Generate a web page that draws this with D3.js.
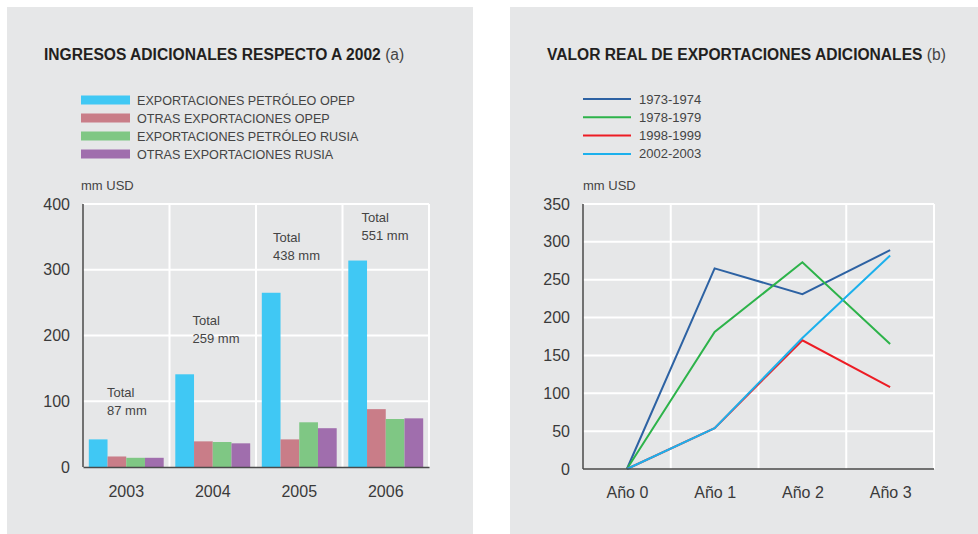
<!DOCTYPE html>
<html>
<head>
<meta charset="utf-8">
<script src="https://cdn.jsdelivr.net/npm/d3@7"></script>
<style>
  body { margin: 0; background: #fff; }
  svg { display: block; font-family: "Liberation Sans", Arial, sans-serif; }
  .grid line { stroke: #fff; stroke-width: 2; }
  .axis path { stroke: #4a4a4a; stroke-width: 1.5; }
  .axis text { font-size: 16px; fill: #3a3a3a; }
  .legend text, .note text { font-size: 13px; fill: #444; }
  .legend.caps text { font-size: 12.6px; }
</style>
</head>
<body>
<svg id="chart" width="978" height="534"></svg>
<script>
/* Data: panel (a) */
var years = ["2003", "2004", "2005", "2006"];
var barSeries = ["EXPORTACIONES PETRÓLEO OPEP", "OTRAS EXPORTACIONES OPEP",
                 "EXPORTACIONES PETRÓLEO RUSIA", "OTRAS EXPORTACIONES RUSIA"];
var opepOil   = [42, 141, 265, 314];
var opepOther = [16, 39, 42, 88];
var rusiaOil  = [14, 38, 68, 73];
var rusiaOther= [14, 36, 59, 74];
var totals    = ["87 mm", "259 mm", "438 mm", "551 mm"];
var totalLabelAt = [79, 189, 315, 345];   // value where the "xx mm" line sits
var barTicks = [0, 100, 200, 300, 400];

/* Data: panel (b) */
var periods = ["Año 0", "Año 1", "Año 2", "Año 3"];
var lineSeries = ["1973-1974", "1978-1979", "1998-1999", "2002-2003"];
var v1973 = [0, 265, 231, 289];
var v1978 = [0, 181, 273, 165];
var v1998 = [0, 54, 170, 108];
var v2002 = [0, 54, 173, 282];
var lineTicks = [0, 50, 100, 150, 200, 250, 300, 350];

var barColors  = ["#40c8f4", "#c97d88", "#7fc784", "#a06ead"];
var lineColors = ["#2d62a3", "#2db34a", "#ed1c24", "#1cb0ec"];

var svg = d3.select("#chart");

// panels
svg.append("rect").attr("x", 7).attr("y", 7).attr("width", 466).attr("height", 527).attr("fill", "#e6e7e8");
svg.append("rect").attr("x", 510).attr("y", 7).attr("width", 468).attr("height", 527).attr("fill", "#e6e7e8");

function title(x, main, tag) {
  var t = svg.append("text").attr("x", x).attr("y", 60)
    .style("font-size", "15.6px").style("fill", "#231f20");
  t.append("tspan").style("font-weight", "bold").text(main);
  t.append("tspan").style("fill", "#444").text(" " + tag);
}
title(44, "INGRESOS ADICIONALES RESPECTO A 2002", "(a)");
title(547, "VALOR REAL DE EXPORTACIONES ADICIONALES", "(b)");

/* ---------- Panel (a): grouped bars ---------- */
var barTable = years.map(function (y, i) {
  return { year: y, values: [opepOil[i], opepOther[i], rusiaOil[i], rusiaOther[i]] };
});

var x0 = d3.scaleBand().domain(years).range([83, 429]).padding(0);
var x1 = d3.scaleBand().domain(d3.range(barSeries.length)).range([0, x0.bandwidth()]).paddingOuter(0.31).paddingInner(0);
var yA = d3.scaleLinear().domain([0, 400]).range([467, 204]);

// legend (a)
var legA = svg.append("g").attr("class", "legend caps");
barSeries.forEach(function (s, i) {
  var cy = 100 + i * 18;
  legA.append("rect").attr("x", 81).attr("y", cy - 4.5).attr("width", 49).attr("height", 9).attr("fill", barColors[i]);
  legA.append("text").attr("x", 137).attr("y", cy + 4.5).text(s);
});
svg.append("text").attr("x", 81).attr("y", 190).style("font-size", "13px").style("fill", "#444").text("mm USD");

// grid (a)
var gA = svg.append("g").attr("class", "grid");
gA.selectAll(".h").data(barTicks.slice(1)).enter().append("line")
  .attr("x1", 83).attr("x2", 429).attr("y1", function (d) { return yA(d); }).attr("y2", function (d) { return yA(d); });
gA.selectAll(".v").data(years).enter().append("line")
  .attr("x1", function (d) { return x0(d) + x0.bandwidth(); })
  .attr("x2", function (d) { return x0(d) + x0.bandwidth(); })
  .attr("y1", yA(400)).attr("y2", yA(0));

// bars
svg.append("g").selectAll("g").data(barTable).enter().append("g")
  .attr("transform", function (d) { return "translate(" + x0(d.year) + ",0)"; })
  .selectAll("rect").data(function (d) { return d.values; }).enter().append("rect")
    .attr("x", function (d, i) { return x1(i); })
    .attr("width", x1.bandwidth())
    .attr("y", function (d) { return yA(d); })
    .attr("height", function (d) { return yA(0) - yA(d); })
    .attr("fill", function (d, i) { return barColors[i]; });

// totals
var notes = svg.append("g").attr("class", "note");
years.forEach(function (y, i) {
  var nx = x0(y) + [24, 23, 17, 19][i];
  notes.append("text").attr("x", nx).attr("y", yA(totalLabelAt[i]) - 18).text("Total");
  notes.append("text").attr("x", nx).attr("y", yA(totalLabelAt[i])).text(totals[i]);
});

// axes (a)
svg.append("g").attr("class", "axis").attr("transform", "translate(83,0)")
  .call(d3.axisLeft(yA).tickValues(barTicks).tickSize(0).tickPadding(13))
  .call(function (g) { g.select(".domain").attr("d", "M0," + yA(400) + "V" + yA(0)); });
svg.append("g").attr("class", "axis").attr("transform", "translate(0," + yA(0) + ")")
  .call(d3.axisBottom(x0).tickSize(0).tickPadding(19));

/* ---------- Panel (b): lines ---------- */
var lineTable = lineSeries.map(function (s, i) {
  return { name: s, values: [v1973, v1978, v1998, v2002][i] };
});

var xB = d3.scalePoint().domain(periods).range([583, 934]).padding(0.5);
var yB = d3.scaleLinear().domain([0, 350]).range([469, 204]);

// legend (b)
var legB = svg.append("g").attr("class", "legend");
lineSeries.forEach(function (s, i) {
  var cy = 99 + i * 18.3;
  legB.append("line").attr("x1", 583).attr("x2", 631).attr("y1", cy).attr("y2", cy)
    .attr("stroke", lineColors[i]).attr("stroke-width", 2);
  legB.append("text").attr("x", 639).attr("y", cy + 4.5).text(s);
});
svg.append("text").attr("x", 583).attr("y", 190).style("font-size", "13px").style("fill", "#444").text("mm USD");

// grid (b)
var gB = svg.append("g").attr("class", "grid");
gB.selectAll(".h").data(lineTicks.slice(1)).enter().append("line")
  .attr("x1", 583).attr("x2", 934).attr("y1", function (d) { return yB(d); }).attr("y2", function (d) { return yB(d); });
gB.selectAll(".v").data(periods).enter().append("line")
  .attr("x1", function (d) { return xB(d) + xB.step() / 2; })
  .attr("x2", function (d) { return xB(d) + xB.step() / 2; })
  .attr("y1", yB(350)).attr("y2", yB(0));

var line = d3.line()
  .x(function (d, i) { return xB(periods[i]); })
  .y(function (d) { return yB(d); });

svg.append("g").selectAll("path").data(lineTable).enter().append("path")
  .attr("d", function (d) { return line(d.values); })
  .attr("fill", "none")
  .attr("stroke", function (d, i) { return lineColors[i]; })
  .attr("stroke-width", 2);

// axes (b)
svg.append("g").attr("class", "axis").attr("transform", "translate(583,0)")
  .call(d3.axisLeft(yB).tickValues(lineTicks).tickSize(0).tickPadding(13))
  .call(function (g) { g.select(".domain").attr("d", "M0," + yB(350) + "V" + yB(0)); });
svg.append("g").attr("class", "axis").attr("transform", "translate(0," + yB(0) + ")")
  .call(d3.axisBottom(xB).tickSize(0).tickPadding(18))
  .call(function (g) { g.select(".domain").attr("d", "M583,0H934"); });
</script>
</body>
</html>
